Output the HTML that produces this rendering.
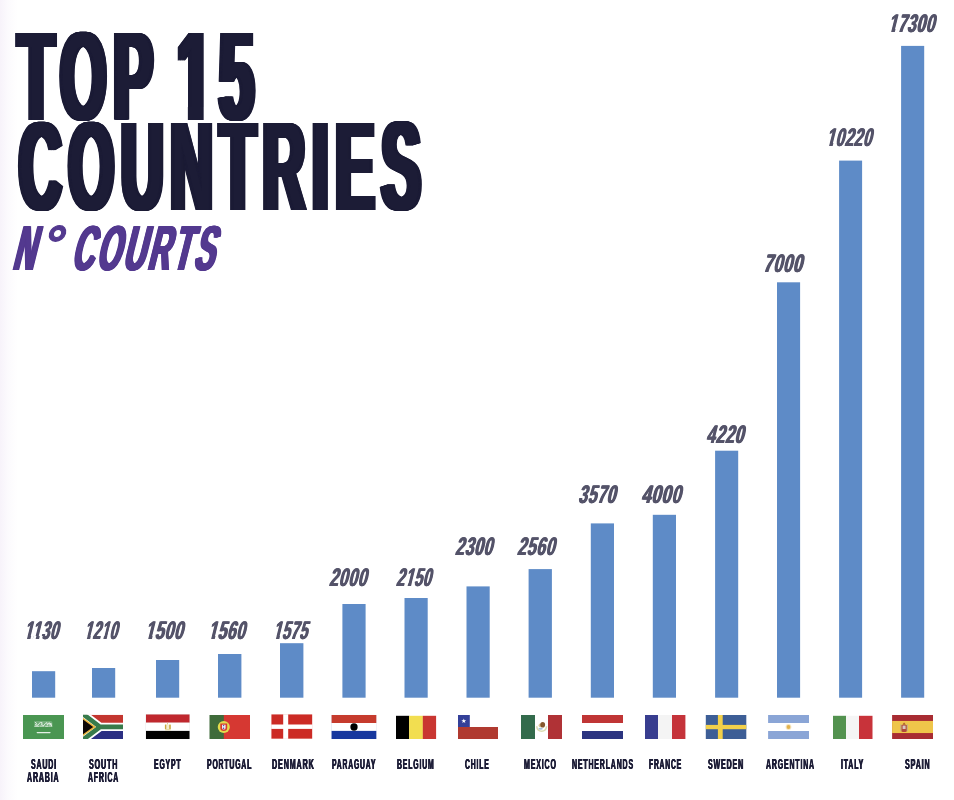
<!DOCTYPE html>
<html lang="en"><head><meta charset="utf-8"><title>Top 15 Countries - N° Courts</title>
<style>
html,body{margin:0;padding:0;background:#fff;overflow:hidden}
.t{position:absolute;white-space:nowrap;font-family:"Liberation Sans",Arial,sans-serif;font-weight:bold}
.c{position:absolute;background:#fff}
#chart{position:relative;width:954px;height:800px;overflow:hidden;background:#fff}
.b{position:absolute;background:#5e8bc7}
svg{position:absolute;left:0;top:0}
</style></head><body>
<div id="chart">
<div style="position:absolute;left:0;top:0;width:18px;height:800px;background:linear-gradient(90deg,rgba(170,120,200,.09),rgba(170,120,200,.035) 45%,rgba(170,120,200,0))"></div>
<svg width="954" height="800" viewBox="0 0 954 800">
<g fill="#5e8bc7">
<rect x="32.0" y="671.2" width="23.2" height="26.5"/>
<rect x="92.0" y="668.0" width="23.2" height="29.7"/>
<rect x="156.0" y="660.0" width="23.2" height="37.7"/>
<rect x="218.0" y="654.0" width="23.4" height="43.7"/>
<rect x="280.0" y="643.2" width="23.4" height="54.5"/>
<rect x="342.4" y="604.0" width="23.2" height="93.7"/>
<rect x="404.5" y="598.0" width="23.2" height="99.7"/>
<rect x="466.5" y="586.4" width="23.2" height="111.3"/>
<rect x="528.6" y="569.1" width="23.3" height="128.6"/>
<rect x="590.8" y="523.4" width="23.2" height="174.3"/>
<rect x="652.8" y="514.8" width="23.2" height="182.9"/>
<rect x="715.1" y="450.7" width="23.1" height="247.0"/>
<rect x="777.0" y="282.3" width="23.1" height="415.4"/>
<rect x="839.1" y="160.6" width="23.0" height="537.1"/>
<rect x="901.1" y="45.9" width="23.1" height="651.8"/>
</g>
<rect x="23.00" y="715.00" width="41.00" height="24.00" fill="#4a9652" />
<rect x="34.3" y="721.1" width="18.2" height="5.8" rx="2" fill="#fff" opacity=".22"/>
<g fill="none" stroke="#fff" stroke-linecap="round" stroke-linejoin="round" opacity=".85"><path d="M35 722.2l1.600 1.200l-1.200 1.600l2.600 .200l1-1.600l1.800-1.200l1.400 .400l-.800 1.800l2.400 1l1.600-2.200l1.600-.800l.400 2.600l1.800-2.600l1 2.400l.600-2l1 3.200" stroke-width=".9"/><path d="M34.600 726.300h4.200m1.200-.200h3.800m1.800 .200h2.600m1.200-.300h2.200" stroke-width=".8"/><path d="M37.200 732.600h12.800" stroke-width="1.200"/></g>
<clipPath id="za"><rect x="83.0" y="714.8" width="40.0" height="24.200000000000045"/></clipPath>
<g clip-path="url(#za)"><rect x="83.00" y="714.80" width="40.00" height="12.10" fill="#c3362f" /><rect x="83.00" y="726.90" width="40.00" height="12.10" fill="#2b2f83" /><path d="M80.0 711.8 L100.0 726.9 L80.0 742.0 M100.0 726.9 H123.0" stroke="#fff" stroke-width="8.4" fill="none"/><path d="M80.0 711.8 L100.0 726.9 L80.0 742.0 M100.0 726.9 H123.0" stroke="#387b4b" stroke-width="4.7" fill="none"/><path d="M83.0 717.6999999999999 L96.0 726.9 L83.0 736.1 Z" fill="#e9b33a"/><path d="M83.0 719.5999999999999 L93.2 726.9 L83.0 734.2 Z" fill="#0d0808"/></g>
<rect x="145.60" y="714.20" width="44.20" height="25.00" fill="#e4e4e4" />
<rect x="146.00" y="714.50" width="43.50" height="8.20" fill="#c0282e" />
<rect x="146.00" y="722.70" width="43.50" height="8.20" fill="#fff" />
<rect x="146.00" y="730.90" width="43.50" height="8.10" fill="#000" />
<rect x="164.9" y="724.4" width="1.700" height="4.700" rx=".5" fill="#c9a93f"/>
<rect x="169.1" y="724.4" width="1.700" height="4.700" rx=".5" fill="#c9a93f"/>
<rect x="166.6" y="724.6" width="2.500" height="4.400" fill="#f3ecd2"/>
<rect x="165" y="729.1" width="5.800" height="1.500" rx=".6" fill="#e6daa6"/>
<rect x="167.2" y="722.9" width=".800" height="1.500" fill="#d7c476"/>
<rect x="209.50" y="715.00" width="14.50" height="24.00" fill="#3f6b3a" />
<rect x="223.80" y="715.00" width="26.20" height="24.00" fill="#d63832" />
<circle cx="223.8" cy="727" r="6.05" fill="#e3dd4c"/>
<path d="M220.3 723.4h6.900v4.300a3.450 3.300 0 0 1-6.900 0z" fill="#d63b30"/>
<path d="M222 724.8h3.600v2.900a1.800 1.900 0 0 1-3.600 0z" fill="#eceaf4"/>
<circle cx="223.6" cy="725.600" r=".700" fill="#3b4fa5"/>
<circle cx="223.6" cy="728.300" r=".700" fill="#3b4fa5"/>
<rect x="271.20" y="714.20" width="41.20" height="24.70" fill="#f3d7d5" />
<rect x="271.50" y="714.50" width="40.60" height="24.10" fill="#cc2b25" />
<rect x="283.20" y="714.20" width="5.00" height="24.70" fill="#fff" />
<rect x="271.20" y="724.50" width="41.40" height="4.40" fill="#fff" />
<rect x="331.30" y="714.90" width="45.20" height="24.20" fill="#dfe4f2" />
<rect x="331.60" y="715.00" width="44.70" height="8.00" fill="#c63b2d" />
<rect x="331.90" y="723.00" width="44.20" height="7.90" fill="#fff" />
<rect x="331.60" y="730.90" width="44.70" height="8.10" fill="#17389e" />
<circle cx="354" cy="727" r="3.65" fill="#000"/>
<rect x="396.00" y="715.80" width="13.20" height="23.20" fill="#000" />
<rect x="409.10" y="715.80" width="13.80" height="23.20" fill="#f2de50" />
<rect x="422.80" y="715.80" width="13.30" height="23.20" fill="#c93631" />
<rect x="458.00" y="727.00" width="40.00" height="12.00" fill="#b03a30" />
<rect x="458.00" y="715.00" width="11.80" height="12.00" fill="#344099" />
<polygon points="463.80,718.40 464.41,720.16 466.27,720.20 464.79,721.32 465.33,723.10 463.80,722.04 462.27,723.10 462.81,721.32 461.33,720.20 463.19,720.16" fill="#fff"/>
<rect x="521.00" y="715.00" width="14.00" height="24.00" fill="#336b4c" />
<rect x="548.00" y="715.00" width="14.00" height="24.00" fill="#b03236" />
<path d="M536.700 726.200c.300 3 2.200 5 4.900 5.100c2.800-.100 4.700-2.100 5-5.100" fill="none" stroke="#d3d6a2" stroke-width="1.500" opacity=".85"/>
<ellipse cx="540.600" cy="728.800" rx="2.200" ry="1" fill="#8eb7d4" opacity=".8"/>
<ellipse cx="540.300" cy="725.300" rx="1.700" ry="1.900" fill="#cbb272" opacity=".7"/>
<ellipse cx="542.700" cy="724.800" rx="2.400" ry="2.800" fill="#7c4a1d" opacity=".92"/>
<rect x="582.00" y="715.00" width="41.00" height="8.00" fill="#c03535" />
<rect x="582.00" y="731.00" width="41.00" height="8.00" fill="#2b3480" />
<rect x="645.00" y="715.00" width="13.10" height="24.00" fill="#383d8f" />
<rect x="658.00" y="715.00" width="14.10" height="24.00" fill="#f4f4f4" />
<rect x="672.00" y="715.00" width="13.40" height="24.00" fill="#c5333a" />
<rect x="705.80" y="715.00" width="40.50" height="24.00" fill="#3d5e96" />
<rect x="717.90" y="715.00" width="4.80" height="24.00" fill="#f2d04a" />
<rect x="705.80" y="724.90" width="40.50" height="4.30" fill="#f2d04a" />
<rect x="768.10" y="715.00" width="40.90" height="8.00" fill="#8aa5d6" />
<rect x="768.10" y="731.00" width="40.90" height="8.00" fill="#8aa5d6" />
<circle cx="788.5" cy="727" r="2.9" fill="#f1dca8" opacity=".7"/><circle cx="788.5" cy="727" r="1.9" fill="#e2b24e"/>
<rect x="833.00" y="715.80" width="13.10" height="23.20" fill="#53924f" />
<rect x="846.00" y="715.80" width="13.10" height="23.20" fill="#f5f5f5" />
<rect x="859.00" y="715.80" width="13.50" height="23.20" fill="#c8333a" />
<rect x="892.10" y="715.00" width="40.90" height="24.00" fill="#a82c32" />
<rect x="892.10" y="720.95" width="40.90" height="12.10" fill="#efc54a" />
<path d="M900.8 725h6.600v4.400a3.300 2.600 0 0 1-6.600 0z" fill="#b0483a"/>
<path d="M902.6 725.600h3v3.400h-3z" fill="#d9c7c0"/>
<path d="M900.2 724.200h1.300v7h-1.300z M906.700 724.200h1.300v7h-1.300z" fill="#c9b27a"/>
<path d="M902.300 724.700l1.800-2.200 1.800 2.200z" fill="#a8562e"/>
</svg>
<div class="t" style="left:18.00px;top:0.63px;font-size:126.02px;line-height:152px;color:#1c1c36;letter-spacing:15.12px;text-shadow:0.91px 0 0 #1c1c36,-0.91px 0 0 #1c1c36,1.83px 0 0 #1c1c36,-1.83px 0 0 #1c1c36,2.74px 0 0 #1c1c36,-2.74px 0 0 #1c1c36,3.65px 0 0 #1c1c36,-3.65px 0 0 #1c1c36,4.57px 0 0 #1c1c36,-4.57px 0 0 #1c1c36,5.48px 0 0 #1c1c36,-5.48px 0 0 #1c1c36,6.40px 0 0 #1c1c36,-6.40px 0 0 #1c1c36,7.31px 0 0 #1c1c36,-7.31px 0 0 #1c1c36;transform-origin:0 119.67px;transform:scaleX(0.4696)">TOP</div>
<div class="t" style="left:176.80px;top:0.63px;font-size:126.02px;line-height:152px;color:#1c1c36;letter-spacing:15.12px;text-shadow:0.91px 0 0 #1c1c36,-0.91px 0 0 #1c1c36,1.83px 0 0 #1c1c36,-1.83px 0 0 #1c1c36,2.74px 0 0 #1c1c36,-2.74px 0 0 #1c1c36,3.65px 0 0 #1c1c36,-3.65px 0 0 #1c1c36,4.57px 0 0 #1c1c36,-4.57px 0 0 #1c1c36,5.48px 0 0 #1c1c36,-5.48px 0 0 #1c1c36,6.40px 0 0 #1c1c36,-6.40px 0 0 #1c1c36,7.31px 0 0 #1c1c36,-7.31px 0 0 #1c1c36;transform-origin:0 119.67px;transform:scaleX(0.4938)">15<span class="c" style="left:-2.37px;top:106.30px;width:24.47px;height:15.36px"></span><span class="c" style="left:54.01px;top:106.30px;width:22.87px;height:15.36px"></span></div>
<div class="t" style="left:18.50px;top:90.68px;font-size:126.45px;line-height:152px;color:#1c1c36;letter-spacing:15.17px;text-shadow:0.92px 0 0 #1c1c36,-0.92px 0 0 #1c1c36,1.83px 0 0 #1c1c36,-1.83px 0 0 #1c1c36,2.75px 0 0 #1c1c36,-2.75px 0 0 #1c1c36,3.67px 0 0 #1c1c36,-3.67px 0 0 #1c1c36,4.58px 0 0 #1c1c36,-4.58px 0 0 #1c1c36,5.50px 0 0 #1c1c36,-5.50px 0 0 #1c1c36,6.42px 0 0 #1c1c36,-6.42px 0 0 #1c1c36,7.33px 0 0 #1c1c36,-7.33px 0 0 #1c1c36;transform-origin:0 119.82px;transform:scaleX(0.4638)">COUNTRIES</div>
<div class="t" style="left:12.10px;top:209.39px;font-size:63.52px;line-height:77px;color:#53398f;letter-spacing:6.35px;text-shadow:0.95px 0 0 #53398f,-0.95px 0 0 #53398f,1.91px 0 0 #53398f,-1.91px 0 0 #53398f,2.86px 0 0 #53398f,-2.86px 0 0 #53398f;transform-origin:0 60.51px;transform:skewX(-14deg) scaleX(0.4738)">N<span style="display:inline-block;text-shadow:none;-webkit-text-stroke:1.5px #53398f;margin:0 0.02em 0 0.24em;transform-origin:50% 26.08px;transform:translateY(-1.6px) scale(1.6886,0.8)">°</span> COURTS</div>
<div class="t" style="left:24.40px;top:614.99px;font-size:25.44px;line-height:31px;color:#545369;letter-spacing:1.14px;text-shadow:0.86px 0 0 #545369,-0.86px 0 0 #545369;transform-origin:0 24.31px;transform:skewX(-14deg) scaleX(0.5776)">1130<span class="c" style="left:-1.46px;top:20.97px;width:6.28px;height:4.60px"></span><span class="c" style="left:10.54px;top:20.97px;width:4.71px;height:4.60px"></span><span class="c" style="left:15.08px;top:20.97px;width:5.03px;height:4.60px"></span><span class="c" style="left:25.83px;top:20.97px;width:4.71px;height:4.60px"></span></div>
<div class="t" style="left:84.20px;top:614.99px;font-size:25.44px;line-height:31px;color:#545369;letter-spacing:1.14px;text-shadow:0.86px 0 0 #545369,-0.86px 0 0 #545369;transform-origin:0 24.31px;transform:skewX(-14deg) scaleX(0.5502)">1210<span class="c" style="left:-1.46px;top:20.97px;width:6.28px;height:4.60px"></span><span class="c" style="left:10.54px;top:20.97px;width:4.71px;height:4.60px"></span><span class="c" style="left:30.37px;top:20.97px;width:5.03px;height:4.60px"></span><span class="c" style="left:41.12px;top:20.97px;width:4.71px;height:4.60px"></span></div>
<div class="t" style="left:144.50px;top:614.99px;font-size:25.44px;line-height:31px;color:#545369;letter-spacing:1.14px;text-shadow:0.86px 0 0 #545369,-0.86px 0 0 #545369;transform-origin:0 24.31px;transform:skewX(-14deg) scaleX(0.6252)">1500<span class="c" style="left:-1.46px;top:20.97px;width:6.28px;height:4.60px"></span><span class="c" style="left:10.54px;top:20.97px;width:4.71px;height:4.60px"></span></div>
<div class="t" style="left:208.30px;top:614.79px;font-size:25.44px;line-height:31px;color:#545369;letter-spacing:1.14px;text-shadow:0.86px 0 0 #545369,-0.86px 0 0 #545369;transform-origin:0 24.31px;transform:skewX(-14deg) scaleX(0.6086)">1560<span class="c" style="left:-1.46px;top:20.97px;width:6.28px;height:4.60px"></span><span class="c" style="left:10.54px;top:20.97px;width:4.71px;height:4.60px"></span></div>
<div class="t" style="left:272.70px;top:614.79px;font-size:25.44px;line-height:31px;color:#545369;letter-spacing:1.14px;text-shadow:0.86px 0 0 #545369,-0.86px 0 0 #545369;transform-origin:0 24.31px;transform:skewX(-14deg) scaleX(0.5648)">1575<span class="c" style="left:-1.46px;top:20.97px;width:6.28px;height:4.60px"></span><span class="c" style="left:10.54px;top:20.97px;width:4.71px;height:4.60px"></span></div>
<div class="t" style="left:328.50px;top:562.09px;font-size:25.44px;line-height:31px;color:#545369;letter-spacing:1.14px;text-shadow:0.86px 0 0 #545369,-0.86px 0 0 #545369;transform-origin:0 24.31px;transform:skewX(-14deg) scaleX(0.6216)">2000</div>
<div class="t" style="left:395.50px;top:562.09px;font-size:25.44px;line-height:31px;color:#545369;letter-spacing:1.14px;text-shadow:0.86px 0 0 #545369,-0.86px 0 0 #545369;transform-origin:0 24.31px;transform:skewX(-14deg) scaleX(0.5759)">2150<span class="c" style="left:15.08px;top:20.97px;width:5.03px;height:4.60px"></span><span class="c" style="left:25.83px;top:20.97px;width:4.71px;height:4.60px"></span></div>
<div class="t" style="left:455.40px;top:530.99px;font-size:25.44px;line-height:31px;color:#545369;letter-spacing:1.14px;text-shadow:0.86px 0 0 #545369,-0.86px 0 0 #545369;transform-origin:0 24.31px;transform:skewX(-14deg) scaleX(0.6141)">2300</div>
<div class="t" style="left:517.30px;top:530.99px;font-size:25.44px;line-height:31px;color:#545369;letter-spacing:1.14px;text-shadow:0.86px 0 0 #545369,-0.86px 0 0 #545369;transform-origin:0 24.31px;transform:skewX(-14deg) scaleX(0.6214)">2560</div>
<div class="t" style="left:578.30px;top:478.79px;font-size:25.44px;line-height:31px;color:#545369;letter-spacing:1.14px;text-shadow:0.86px 0 0 #545369,-0.86px 0 0 #545369;transform-origin:0 24.31px;transform:skewX(-14deg) scaleX(0.6176)">3570</div>
<div class="t" style="left:640.60px;top:478.79px;font-size:25.44px;line-height:31px;color:#545369;letter-spacing:1.14px;text-shadow:0.86px 0 0 #545369,-0.86px 0 0 #545369;transform-origin:0 24.31px;transform:skewX(-14deg) scaleX(0.6566)">4000</div>
<div class="t" style="left:706.40px;top:419.09px;font-size:25.44px;line-height:31px;color:#545369;letter-spacing:1.14px;text-shadow:0.86px 0 0 #545369,-0.86px 0 0 #545369;transform-origin:0 24.31px;transform:skewX(-14deg) scaleX(0.6173)">4220</div>
<div class="t" style="left:763.40px;top:248.39px;font-size:25.44px;line-height:31px;color:#545369;letter-spacing:1.14px;text-shadow:0.86px 0 0 #545369,-0.86px 0 0 #545369;transform-origin:0 24.31px;transform:skewX(-14deg) scaleX(0.6454)">7000</div>
<div class="t" style="left:825.60px;top:122.09px;font-size:25.44px;line-height:31px;color:#545369;letter-spacing:1.14px;text-shadow:0.86px 0 0 #545369,-0.86px 0 0 #545369;transform-origin:0 24.31px;transform:skewX(-14deg) scaleX(0.5990)">10220<span class="c" style="left:-1.46px;top:20.97px;width:6.28px;height:4.60px"></span><span class="c" style="left:10.54px;top:20.97px;width:4.71px;height:4.60px"></span></div>
<div class="t" style="left:887.90px;top:8.29px;font-size:25.44px;line-height:31px;color:#545369;letter-spacing:1.14px;text-shadow:0.86px 0 0 #545369,-0.86px 0 0 #545369;transform-origin:0 24.31px;transform:skewX(-14deg) scaleX(0.6121)">17300<span class="c" style="left:-1.46px;top:20.97px;width:6.28px;height:4.60px"></span><span class="c" style="left:10.54px;top:20.97px;width:4.71px;height:4.60px"></span></div>
<div class="t" style="left:30.80px;top:754.76px;font-size:14.53px;line-height:18px;color:#1c1c36;letter-spacing:1.74px;text-shadow:0.58px 0 0 #1c1c36,-0.58px 0 0 #1c1c36;transform-origin:0 14.04px;transform:scaleX(0.4811)">SAUDI</div>
<div class="t" style="left:27.40px;top:768.46px;font-size:14.53px;line-height:18px;color:#1c1c36;letter-spacing:1.74px;text-shadow:0.58px 0 0 #1c1c36,-0.58px 0 0 #1c1c36;transform-origin:0 14.04px;transform:scaleX(0.4851)">ARABIA</div>
<div class="t" style="left:88.50px;top:754.76px;font-size:14.53px;line-height:18px;color:#1c1c36;letter-spacing:1.74px;text-shadow:0.58px 0 0 #1c1c36,-0.58px 0 0 #1c1c36;transform-origin:0 14.04px;transform:scaleX(0.4917)">SOUTH</div>
<div class="t" style="left:87.50px;top:768.46px;font-size:14.53px;line-height:18px;color:#1c1c36;letter-spacing:1.74px;text-shadow:0.58px 0 0 #1c1c36,-0.58px 0 0 #1c1c36;transform-origin:0 14.04px;transform:scaleX(0.4768)">AFRICA</div>
<div class="t" style="left:154.20px;top:754.76px;font-size:14.53px;line-height:18px;color:#1c1c36;letter-spacing:1.74px;text-shadow:0.58px 0 0 #1c1c36,-0.58px 0 0 #1c1c36;transform-origin:0 14.04px;transform:scaleX(0.4736)">EGYPT</div>
<div class="t" style="left:207.20px;top:754.76px;font-size:14.53px;line-height:18px;color:#1c1c36;letter-spacing:1.74px;text-shadow:0.58px 0 0 #1c1c36,-0.58px 0 0 #1c1c36;transform-origin:0 14.04px;transform:scaleX(0.4735)">PORTUGAL</div>
<div class="t" style="left:272.30px;top:754.76px;font-size:14.53px;line-height:18px;color:#1c1c36;letter-spacing:1.74px;text-shadow:0.58px 0 0 #1c1c36,-0.58px 0 0 #1c1c36;transform-origin:0 14.04px;transform:scaleX(0.4943)">DENMARK</div>
<div class="t" style="left:331.70px;top:754.76px;font-size:14.53px;line-height:18px;color:#1c1c36;letter-spacing:1.74px;text-shadow:0.58px 0 0 #1c1c36,-0.58px 0 0 #1c1c36;transform-origin:0 14.04px;transform:scaleX(0.4676)">PARAGUAY</div>
<div class="t" style="left:396.50px;top:754.76px;font-size:14.53px;line-height:18px;color:#1c1c36;letter-spacing:1.74px;text-shadow:0.58px 0 0 #1c1c36,-0.58px 0 0 #1c1c36;transform-origin:0 14.04px;transform:scaleX(0.4745)">BELGIUM</div>
<div class="t" style="left:465.30px;top:754.76px;font-size:14.53px;line-height:18px;color:#1c1c36;letter-spacing:1.74px;text-shadow:0.58px 0 0 #1c1c36,-0.58px 0 0 #1c1c36;transform-origin:0 14.04px;transform:scaleX(0.4705)">CHILE</div>
<div class="t" style="left:524.00px;top:754.76px;font-size:14.53px;line-height:18px;color:#1c1c36;letter-spacing:1.74px;text-shadow:0.58px 0 0 #1c1c36,-0.58px 0 0 #1c1c36;transform-origin:0 14.04px;transform:scaleX(0.4850)">MEXICO</div>
<div class="t" style="left:571.90px;top:754.76px;font-size:14.53px;line-height:18px;color:#1c1c36;letter-spacing:1.74px;text-shadow:0.58px 0 0 #1c1c36,-0.58px 0 0 #1c1c36;transform-origin:0 14.04px;transform:scaleX(0.4805)">NETHERLANDS</div>
<div class="t" style="left:648.80px;top:754.76px;font-size:14.53px;line-height:18px;color:#1c1c36;letter-spacing:1.74px;text-shadow:0.58px 0 0 #1c1c36,-0.58px 0 0 #1c1c36;transform-origin:0 14.04px;transform:scaleX(0.4645)">FRANCE</div>
<div class="t" style="left:708.10px;top:754.76px;font-size:14.53px;line-height:18px;color:#1c1c36;letter-spacing:1.74px;text-shadow:0.58px 0 0 #1c1c36,-0.58px 0 0 #1c1c36;transform-origin:0 14.04px;transform:scaleX(0.4863)">SWEDEN</div>
<div class="t" style="left:765.50px;top:754.76px;font-size:14.53px;line-height:18px;color:#1c1c36;letter-spacing:1.74px;text-shadow:0.58px 0 0 #1c1c36,-0.58px 0 0 #1c1c36;transform-origin:0 14.04px;transform:scaleX(0.4800)">ARGENTINA</div>
<div class="t" style="left:841.30px;top:754.76px;font-size:14.53px;line-height:18px;color:#1c1c36;letter-spacing:1.74px;text-shadow:0.58px 0 0 #1c1c36,-0.58px 0 0 #1c1c36;transform-origin:0 14.04px;transform:scaleX(0.4786)">ITALY</div>
<div class="t" style="left:905.00px;top:754.76px;font-size:14.53px;line-height:18px;color:#1c1c36;letter-spacing:1.74px;text-shadow:0.58px 0 0 #1c1c36,-0.58px 0 0 #1c1c36;transform-origin:0 14.04px;transform:scaleX(0.4901)">SPAIN</div>
</div>
</body></html>
